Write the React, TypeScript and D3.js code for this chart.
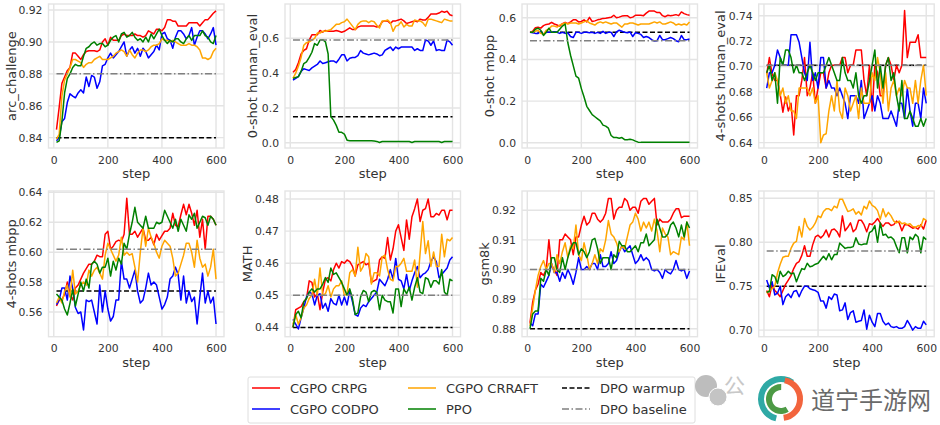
// Eight small training curves panels: CGPO variants vs PPO and DPO reference levels
import { useRef, useEffect } from 'react';
import * as d3 from 'd3';

const steps = d3.range(10, 610, 10);

const arcCrpg = [
  .845,.859,.874,.878,.882,.884,.893,.893,.891,.889,
  .892,.894,.8945,.8945,.8945,.894,.895,.900,.902,.898,
  .903,.901,.901,.901,.904,.905,.904,.904,.904,.905,
  .904,.904,.903,.904,.907,.906,.905,.908,.908,.907,
  .909,.914,.914,.913,.913,.910,.910,.910,.910,.912,
  .912,.912,.912,.910,.912,.914,.914,.916,.918,.9195,
];
const arcCodpo = [
  .838,.840,.850,.852,.862,.8675,.866,.865,.868,.870,
  .868,.878,.872,.879,.878,.871,.875,.885,.886,.890,
  .893,.890,.892,.894,.897,.900,.891,.895,.897,.893,
  .896,.891,.896,.894,.890,.892,.894,.898,.895,.905,
  .906,.902,.901,.896,.903,.907,.907,.905,.902,.904,
  .909,.898,.903,.907,.907,.905,.902,.905,.909,.898,
];
const arcCrraft = [
  .839,.842,.866,.876,.880,.884,.889,.889,.888,.887,
  .884,.886,.887,.887,.889,.890,.891,.889,.889,.889,
  .890,.891,.893,.894,.895,.894,.891,.895,.892,.890,
  .893,.895,.895,.894,.895,.897,.898,.898,.899,.902,
  .901,.901,.900,.901,.900,.899,.898,.898,.898,.899,
  .898,.898,.897,.895,.890,.890,.889,.890,.894,.896,
];
const arcPpo = [
  .837,.838,.850,.868,.877,.880,.884,.886,.885,.885,
  .891,.896,.897,.899,.900,.898,.899,.899,.897,.898,
  .901,.903,.904,.900,.905,.906,.903,.904,.906,.903,
  .901,.902,.900,.903,.900,.905,.902,.905,.908,.904,
  .901,.899,.901,.900,.902,.902,.900,.899,.902,.904,
  .901,.904,.904,.904,.907,.904,.903,.900,.899,.904,
];

const humanCrpg = [
  .405,.42,.46,.51,.53,.54,.59,.62,.62,.62,
  .645,.635,.645,.64,.64,.64,.645,.64,.635,.64,
  .65,.66,.65,.65,.665,.67,.67,.67,.67,.67,
  .67,.665,.67,.695,.70,.70,.685,.70,.70,.705,
  .71,.70,.685,.69,.695,.70,.695,.71,.705,.705,
  .72,.74,.74,.74,.745,.755,.75,.755,.735,.73,
];
const humanCodpo = [
  .36,.37,.38,.41,.425,.42,.415,.43,.44,.45,
  .47,.455,.46,.465,.47,.47,.46,.48,.505,.505,
  .47,.485,.49,.49,.50,.53,.515,.51,.505,.51,
  .515,.51,.50,.505,.53,.54,.55,.53,.55,.54,
  .55,.55,.55,.55,.55,.53,.54,.53,.53,.59,
  .585,.56,.585,.53,.535,.53,.53,.59,.58,.56,
];
const humanCrraft = [
  .37,.40,.44,.49,.56,.575,.58,.59,.60,.63,
  .63,.64,.64,.645,.65,.665,.68,.68,.69,.695,
  .71,.69,.67,.65,.68,.695,.70,.70,.69,.70,
  .695,.675,.66,.70,.70,.705,.69,.64,.67,.675,
  .695,.665,.68,.67,.67,.705,.70,.70,.69,.67,
  .71,.71,.705,.70,.695,.69,.71,.705,.70,.70,
];
const humanPpo = [
  .37,.375,.38,.41,.455,.465,.49,.52,.57,.56,
  .59,.592,.58,.51,.15,.13,.10,.06,.06,.05,
  .015,.012,.012,.012,.012,.012,.012,.012,.012,.012,
  .01,.008,.002,.007,.007,.007,.007,.007,.007,.007,
  .007,.007,.007,.007,.002,.007,.007,.007,.007,.007,
  .007,.007,.007,.007,.007,.002,.007,.007,.007,.007,
];

const mbppCrpg = [
  .530,.535,.552,.555,.550,.562,.568,.570,.578,.570,
  .565,.560,.572,.578,.572,.580,.590,.590,.580,.582,
  .590,.580,.602,.582,.585,.590,.593,.597,.598,.600,
  .602,.612,.600,.603,.608,.610,.610,.600,.603,.612,
  .612,.612,.610,.622,.632,.632,.632,.625,.625,.610,
  .605,.612,.610,.612,.615,.610,.628,.620,.615,.612,
];
const mbppCodpo = [
  .530,.528,.525,.525,.535,.520,.530,.530,.530,.533,
  .530,.525,.530,.525,.528,.510,.505,.530,.530,.525,
  .530,.530,.528,.530,.525,.530,.525,.535,.525,.530,
  .530,.510,.532,.540,.535,.530,.528,.532,.510,.528,
  .525,.520,.505,.510,.505,.495,.488,.490,.515,.495,
  .495,.500,.505,.500,.490,.485,.515,.495,.495,.498,
];
const mbppCrraft = [
  .530,.530,.535,.540,.525,.520,.540,.545,.560,.560,
  .555,.565,.570,.575,.570,.575,.575,.575,.570,.575,
  .580,.585,.575,.570,.565,.575,.580,.575,.580,.575,
  .570,.575,.575,.565,.555,.570,.570,.575,.575,.570,
  .565,.570,.570,.570,.570,.575,.580,.575,.580,.570,
  .570,.575,.580,.575,.565,.570,.565,.570,.565,.580,
];
const mbppPpo = [
  .530,.530,.545,.550,.540,.515,.530,.550,.530,.530,
  .530,.545,.560,.570,.480,.420,.370,.320,.310,.260,
  .220,.175,.155,.135,.125,.115,.105,.085,.080,.070,
  .035,.025,.025,.022,.025,.015,.015,.017,.014,.008,
  .003,.002,.002,.002,.002,.002,.002,.002,.002,.002,
  .002,.002,.002,.002,.002,.002,.002,.002,.002,.002,
];

const fourEvalCrpg = [
  .694,.707,.694,.689,.689,.678,.664,.676,.665,.671,
  .646,.677,.677,.689,.707,.677,.683,.695,.671,.683,
  .695,.695,.683,.695,.701,.701,.701,.701,.707,.707,
  .695,.701,.701,.713,.713,.713,.689,.677,.701,.665,
  .701,.695,.677,.677,.701,.707,.701,.689,.701,.695,
  .701,.744,.707,.719,.719,.719,.725,.707,.707,.707,
];
const fourEvalCodpo = [
  .683,.695,.695,.701,.713,.707,.701,.701,.701,.725,
  .725,.725,.719,.707,.695,.689,.719,.689,.695,.683,
  .707,.707,.683,.689,.683,.683,.677,.683,.677,.671,
  .659,.677,.677,.677,.671,.689,.659,.665,.671,.677,
  .665,.677,.671,.659,.659,.659,.665,.659,.653,.671,
  .671,.659,.683,.665,.653,.671,.671,.659,.683,.671,
];
const fourEvalCrraft = [
  .695,.683,.689,.695,.689,.677,.683,.671,.677,.665,
  .665,.659,.683,.683,.683,.683,.677,.683,.671,.677,
  .640,.646,.647,.665,.677,.665,.689,.665,.659,.683,
  .677,.665,.671,.677,.659,.683,.671,.671,.671,.695,
  .689,.707,.695,.671,.695,.665,.683,.689,.677,.683,
  .677,.689,.683,.683,.671,.689,.671,.689,.701,.677,
];
const fourEvalPpo = [
  .695,.701,.689,.695,.671,.707,.701,.713,.713,.707,
  .695,.701,.695,.695,.689,.695,.701,.695,.689,.695,
  .695,.695,.701,.707,.701,.695,.689,.689,.707,.695,
  .689,.689,.683,.695,.677,.671,.677,.677,.689,.701,
  .713,.683,.701,.683,.701,.707,.689,.695,.677,.665,
  .689,.659,.659,.665,.659,.653,.653,.659,.653,.659,
];

const fourMbppCrpg = [
  .564,.568,.568,.572,.580,.572,.568,.576,.578,.582,
  .586,.589,.592,.592,.594,.598,.597,.597,.612,.614,
  .602,.604,.607,.608,.607,.612,.636,.612,.612,.614,
  .610,.613,.616,.608,.608,.610,.605,.612,.608,.611,
  .614,.614,.616,.626,.618,.617,.625,.632,.625,.632,
  .626,.618,.628,.610,.622,.602,.624,.624,.622,.618,
];
const fourMbppCodpo = [
  .565,.568,.576,.576,.568,.584,.576,.563,.559,.560,
  .548,.568,.567,.568,.560,.552,.578,.560,.574,.562,
  .554,.557,.568,.568,.594,.582,.582,.576,.582,.588,
  .574,.566,.568,.576,.586,.578,.580,.578,.570,.562,
  .565,.570,.582,.584,.590,.585,.568,.584,.566,.574,
  .567,.570,.552,.570,.586,.566,.574,.566,.570,.552,
];
const fourMbppCrraft = [
  .566,.570,.566,.574,.578,.570,.588,.572,.574,.578,
  .580,.578,.588,.584,.588,.590,.586,.582,.598,.606,
  .602,.598,.594,.598,.610,.598,.600,.598,.599,.590,
  .580,.600,.616,.604,.616,.610,.606,.600,.596,.604,
  .608,.606,.604,.596,.584,.586,.592,.598,.606,.606,
  .600,.590,.608,.596,.590,.592,.584,.590,.602,.582,
];
const fourMbppPpo = [
  .572,.570,.568,.562,.558,.566,.575,.564,.572,.580,
  .574,.582,.576,.592,.594,.592,.586,.590,.590,.596,
  .584,.594,.588,.596,.592,.606,.602,.612,.620,.630,
  .620,.618,.616,.624,.616,.616,.616,.620,.619,.620,
  .628,.624,.620,.616,.622,.614,.622,.618,.614,.625,
  .622,.626,.616,.620,.624,.623,.618,.624,.622,.618,
];

const mathCrpg = [
  .440,.4455,.446,.4465,.448,.449,.4545,.454,.4495,.4505,
  .4455,.451,.455,.4555,.4545,.458,.460,.4585,.4605,.460,
  .461,.4605,.459,.456,.4595,.460,.4605,.4595,.460,.454,
  .4545,.455,.461,.462,.4615,.468,.461,.4645,.470,.472,
  .468,.464,.4735,.4675,.4745,.477,.480,.473,.4765,.477,
  .480,.4745,.4745,.4755,.475,.4765,.4765,.4735,.4765,.4765,
];
const mathCodpo = [
  .4425,.441,.4395,.443,.446,.4495,.451,.4505,.447,.450,
  .4505,.446,.4475,.445,.449,.4475,.447,.450,.447,.4495,
  .447,.4515,.448,.444,.4435,.446,.447,.4465,.448,.449,
  .450,.451,.455,.454,.453,.455,.458,.455,.4615,.455,
  .4545,.452,.4565,.4515,.4545,.457,.459,.4555,.4565,.457,
  .458,.4605,.462,.4605,.4555,.4565,.4575,.4585,.461,.462,
];
const mathCrraft = [
  .441,.444,.441,.443,.446,.447,.449,.450,.455,.450,
  .4585,.450,.4505,.453,.4495,.452,.453,.453,.4545,.450,
  .4505,.457,.458,.456,.465,.4575,.459,.463,.462,.4535,
  .457,.457,.456,.462,.4625,.458,.455,.4545,.459,.459,
  .460,.4615,.4575,.4575,.4575,.461,.4525,.463,.473,.463,
  .467,.459,.4635,.459,.459,.469,.462,.4675,.467,.468,
];
const mathPpo = [
  .440,.444,.445,.443,.448,.449,.451,.452,.451,.452,
  .452,.4535,.4555,.454,.4585,.4565,.457,.4555,.454,.452,
  .450,.452,.449,.444,.4445,.4495,.4515,.451,.448,.451,
  .4515,.451,.4455,.450,.4485,.448,.448,.4445,.452,.452,
  .4465,.452,.4505,.4525,.4485,.4525,.4555,.451,.4505,.4555,
  .455,.4525,.4545,.4545,.4535,.458,.451,.450,.455,.4545,
];

const gsmCrpg = [
  .882,.889,.893,.895,.899,.898,.900,.910,.901,.900,
  .898,.910,.910,.912,.911,.910,.905,.911,.911,.915,
  .918,.915,.916,.919,.919,.917,.916,.917,.919,.924,
  .924,.917,.920,.921,.921,.924,.923,.920,.921,.921,
  .919,.923,.924,.924,.922,.923,.924,.915,.917,.916,
  .916,.916,.917,.919,.9205,.9205,.9175,.918,.918,.918,
];
const gsmCodpo = [
  .882,.881,.885,.885,.895,.894,.896,.898,.902,.899,
  .899,.896,.899,.897,.900,.898,.895,.899,.904,.900,
  .900,.901,.900,.902,.902,.900,.905,.901,.901,.902,
  .906,.902,.903,.906,.908,.906,.907,.908,.905,.902,
  .903,.905,.903,.904,.903,.900,.8995,.900,.899,.897,
  .900,.899,.8985,.900,.903,.900,.8995,.900,.897,.8995,
];
const gsmCrraft = [
  .881,.887,.893,.898,.901,.903,.900,.902,.902,.899,
  .905,.902,.906,.909,.904,.908,.907,.915,.905,.903,
  .909,.905,.900,.902,.905,.902,.907,.906,.910,.9165,
  .912,.911,.909,.906,.908,.907,.911,.915,.916,.919,
  .917,.913,.916,.914,.916,.913,.917,.913,.906,.914,
  .912,.911,.905,.906,.9055,.905,.911,.910,.916,.908,
];
const gsmPpo = [
  .880,.885,.886,.886,.897,.896,.900,.898,.904,.904,
  .900,.899,.904,.900,.904,.907,.909,.909,.905,.907,
  .906,.904,.906,.910,.9105,.907,.902,.904,.904,.904,
  .900,.905,.904,.9095,.908,.908,.906,.906,.907,.908,
  .906,.909,.909,.912,.908,.909,.910,.917,.914,.911,
  .911,.912,.915,.916,.914,.911,.915,.911,.916,.914,
];

const ifevalCrpg = [
  .745,.738,.752,.745,.742,.738,.745,.752,.757,.762,
  .770,.776,.778,.785,.796,.784,.784,.797,.806,.808,
  .805,.808,.814,.806,.814,.815,.812,.806,.830,.813,
  .817,.822,.812,.815,.825,.825,.820,.812,.821,.820,
  .823,.827,.822,.818,.822,.822,.819,.820,.824,.822,
  .813,.820,.820,.818,.816,.817,.815,.820,.815,.825,
];
const ifevalCodpo = [
  .757,.748,.755,.740,.742,.750,.729,.738,.741,.737,
  .744,.745,.738,.745,.750,.750,.747,.746,.745,.743,
  .733,.733,.725,.738,.735,.741,.740,.722,.723,.731,
  .712,.720,.722,.709,.710,.711,.723,.701,.717,.709,
  .704,.719,.719,.710,.706,.708,.704,.703,.704,.702,
  .702,.704,.711,.706,.700,.704,.702,.702,.710,.706,
];
const ifevalCrraft = [
  .742,.745,.747,.750,.765,.775,.783,.784,.784,.793,
  .799,.801,.818,.806,.827,.818,.814,.817,.822,.830,
  .828,.835,.838,.838,.836,.841,.839,.849,.849,.842,
  .835,.836,.838,.832,.835,.831,.841,.838,.847,.842,
  .840,.836,.826,.838,.829,.834,.830,.824,.822,.824,
  .821,.822,.820,.821,.818,.817,.819,.818,.827,.825,
];
const ifevalPpo = [
  .743,.744,.763,.761,.753,.767,.761,.763,.767,.764,
  .765,.755,.763,.770,.769,.776,.772,.773,.775,.776,
  .780,.784,.780,.787,.780,.786,.786,.799,.796,.793,
  .794,.794,.795,.805,.798,.797,.798,.798,.811,.813,
  .819,.800,.822,.808,.809,.805,.806,.803,.795,.788,
  .805,.805,.788,.806,.803,.809,.806,.788,.806,.803,
];

const xTicks = [0, 200, 400, 600];
const metrics = ['arc_challenge', '0-shot human_eval', '0-shot mbpp', '4-shots human_eval', '4-shots mbpp', 'MATH', 'gsm8k', 'IFEval'];
const crpgValues = [arcCrpg, humanCrpg, mbppCrpg, fourEvalCrpg, fourMbppCrpg, mathCrpg, gsmCrpg, ifevalCrpg];
const codpoValues = [arcCodpo, humanCodpo, mbppCodpo, fourEvalCodpo, fourMbppCodpo, mathCodpo, gsmCodpo, ifevalCodpo];
const crraftValues = [arcCrraft, humanCrraft, mbppCrraft, fourEvalCrraft, fourMbppCrraft, mathCrraft, gsmCrraft, ifevalCrraft];
const ppoValues = [arcPpo, humanPpo, mbppPpo, fourEvalPpo, fourMbppPpo, mathPpo, gsmPpo, ifevalPpo];
const warmupLevels = [0.84, 0.15, 0.53, 0.701, 0.574, 0.44, 0.88, 0.75];
const baselineLevels = [0.88, 0.59, 0.49, 0.701, 0.602, 0.45, 0.90, 0.79];
const yTicks = [
  [0.84, 0.86, 0.88, 0.90, 0.92],
  [0, 0.2, 0.4, 0.6],
  [0, 0.2, 0.4, 0.6],
  [0.64, 0.66, 0.68, 0.70, 0.72, 0.74],
  [0.56, 0.58, 0.60, 0.62, 0.64],
  [0.44, 0.45, 0.46, 0.47, 0.48],
  [0.88, 0.89, 0.90, 0.91, 0.92],
  [0.70, 0.75, 0.80, 0.85],
];
const yFormats = ['.2f', '.1f', '.1f', '.2f', '.2f', '.2f', '.2f', '.2f'];
const yDomains = [
  [0.8335, 0.9238],
  [-0.03, 0.797],
  [-0.025, 0.666],
  [0.6358, 0.7492],
  [0.5435, 0.6409],
  [0.4371, 0.4825],
  [0.8773, 0.9265],
  [0.6925, 0.8583],
];

// layout, px
const panelLefts = [48.5, 285, 522, 758.7, 48.5, 285, 522, 758.7];
const panelTops = [4, 4, 4, 4, 191, 191, 191, 191];
const panelW = 175.5;
const panelH = [144, 144, 144, 144, 145.7, 145.7, 145.7, 145.7];
const yLabelX = [11, 252, 489, 720, 11, 247, 484, 720];

const GRID = '#e4e4e4';
const TEXT = '#333333';
const FONT = '"DejaVu Sans", sans-serif';
const LW = 1.5;

const seriesStyles = [
  { name: 'CGPO CRPG', color: '#ff0000', values: crpgValues },
  { name: 'CGPO CODPO', color: '#0000ff', values: codpoValues },
  { name: 'CGPO CRRAFT', color: '#ffa500', values: crraftValues },
  { name: 'PPO', color: '#008000', values: ppoValues },
];

const legendItems = [
  { name: 'CGPO CRPG', color: '#ff0000', dash: null, lx: 252, ly: 388 },
  { name: 'CGPO CODPO', color: '#0000ff', dash: null, lx: 252, ly: 409 },
  { name: 'CGPO CRRAFT', color: '#ffa500', dash: null, lx: 408, ly: 388 },
  { name: 'PPO', color: '#008000', dash: null, lx: 408, ly: 409 },
  { name: 'DPO warmup', color: '#000000', dash: '5,2.5', lx: 562, ly: 388 },
  { name: 'DPO baseline', color: '#808080', dash: '7,2.5,1.5,2.5', lx: 562, ly: 409 },
];

export default function App() {
  const svgRef = useRef<SVGSVGElement>(null);

  useEffect(() => {
    if (!svgRef.current) return;
    const svg = d3.select(svgRef.current);
    svg.selectAll('*').remove();

    metrics.forEach((metric, i) => {
      const h = panelH[i];
      const x = d3.scaleLinear().domain([-19.5, 629.5]).range([0, panelW]);
      const y = d3.scaleLinear().domain(yDomains[i]).range([h, 0]);
      const g = svg.append('g').attr('transform', `translate(${panelLefts[i]},${panelTops[i]})`);

      // grid + frame
      g.append('g')
        .selectAll('line')
        .data(xTicks)
        .join('line')
        .attr('x1', (d) => x(d))
        .attr('x2', (d) => x(d))
        .attr('y1', 0)
        .attr('y2', h);
      g.append('g')
        .selectAll('line')
        .data(yTicks[i])
        .join('line')
        .attr('x1', 0)
        .attr('x2', panelW)
        .attr('y1', (d) => y(d))
        .attr('y2', (d) => y(d));
      g.selectAll('line').attr('stroke', GRID).attr('stroke-width', 1.4);
      g.append('rect')
        .attr('width', panelW)
        .attr('height', h)
        .attr('fill', 'none')
        .attr('stroke', GRID)
        .attr('stroke-width', 1.4);

      // axes
      const xAxis = g.append('g')
        .attr('transform', `translate(0,${h})`)
        .call(d3.axisBottom(x).tickValues(xTicks).tickSize(0).tickPadding(8));
      const yAxis = g.append('g')
        .call(d3.axisLeft(y).tickValues(yTicks[i]).tickFormat(d3.format(yFormats[i]) as any).tickSize(0).tickPadding(6));
      [xAxis, yAxis].forEach((a) => {
        a.select('.domain').remove();
        a.selectAll('text').style('fill', TEXT).style('font-size', '10.8px').style('font-family', FONT);
      });

      // reference levels
      const line = d3.line<number>().x((_, k) => x(steps[k])).y((d) => y(d));
      const flat = (v: number) => steps.map(() => v);
      g.append('path')
        .attr('d', line(flat(warmupLevels[i])))
        .attr('fill', 'none')
        .attr('stroke', '#000')
        .attr('stroke-width', LW)
        .attr('stroke-dasharray', '5,2.5');

      seriesStyles.forEach((s) => {
        g.append('path')
          .attr('d', line(s.values[i]))
          .attr('fill', 'none')
          .attr('stroke', s.color)
          .attr('stroke-width', LW)
          .attr('stroke-linejoin', 'round');
      });

      g.append('path')
        .attr('d', line(flat(baselineLevels[i])))
        .attr('fill', 'none')
        .attr('stroke', '#808080')
        .attr('stroke-width', LW)
        .attr('stroke-dasharray', '7,2.5,1.5,2.5');

      // labels
      g.append('text')
        .attr('x', panelW / 2)
        .attr('y', h + 30)
        .attr('text-anchor', 'middle')
        .style('fill', TEXT)
        .style('font-size', '13px')
        .style('font-family', FONT)
        .text('step');
      svg.append('text')
        .attr('transform', `translate(${yLabelX[i]},${panelTops[i] + h / 2}) rotate(-90)`)
        .attr('text-anchor', 'middle')
        .attr('dominant-baseline', 'central')
        .style('fill', TEXT)
        .style('font-size', '13px')
        .style('font-family', FONT)
        .text(metric);
    });

    // legend
    const legend = svg.append('g');
    legend.append('rect')
      .attr('x', 248)
      .attr('y', 377)
      .attr('width', 447)
      .attr('height', 46)
      .attr('rx', 2)
      .attr('fill', 'white')
      .attr('stroke', '#dedede');
    legendItems.forEach((d) => {
      const item = legend.append('g');
      item.append('line')
        .attr('x1', d.lx)
        .attr('x2', d.lx + 28)
        .attr('y1', d.ly)
        .attr('y2', d.ly)
        .attr('stroke', d.color)
        .attr('stroke-width', LW)
        .attr('stroke-dasharray', d.dash);
      item.append('text')
        .attr('x', d.lx + 38)
        .attr('y', d.ly + 4.5)
        .style('fill', TEXT)
        .style('font-size', '13px')
        .style('font-family', FONT)
        .text(d.name);
    });

    // watermark over the bottom right corner
    const mark = svg.append('g');
    mark.append('circle').attr('cx', 706).attr('cy', 386).attr('r', 11).attr('fill', '#bdbdbd');
    mark.append('circle').attr('cx', 718).attr('cy', 397).attr('r', 9).attr('fill', '#c4c4c4').attr('stroke', 'white');
    mark.append('text')
      .attr('x', 724)
      .attr('y', 393)
      .style('fill', '#c8c8c8')
      .style('font-size', '21px')
      .style('font-family', '"Noto Sans CJK SC"')
      .text('公');
    const arc = d3.arc<any>();
    const logo = mark.append('g').attr('transform', 'translate(781,399)');
    [
      { color: '#2fa9a5', r: 23, a0: -2.9, a1: 0.6 },
      { color: '#f2643d', r: 22, a0: 0.2, a1: 3.0 },
      { color: '#4d9a45', r: 15, a0: 2.6, a1: 6.3 },
    ].forEach((d) => {
      logo.append('path')
        .attr('d', arc({ innerRadius: d.r - 6, outerRadius: d.r, startAngle: d.a0, endAngle: d.a1 }))
        .attr('fill', d.color);
    });
    mark.append('text')
      .attr('x', 811)
      .attr('y', 409)
      .style('fill', '#6a6a6a')
      .style('font-size', '24px')
      .style('font-family', '"Noto Sans CJK SC"')
      .text('道宁手游网');
  }, []);

  return (
    <svg
      ref={svgRef}
      width={940}
      height={425}
      style={{ position: 'absolute', left: 0, top: 0, display: 'block', background: 'white' }}
    />
  );
}
